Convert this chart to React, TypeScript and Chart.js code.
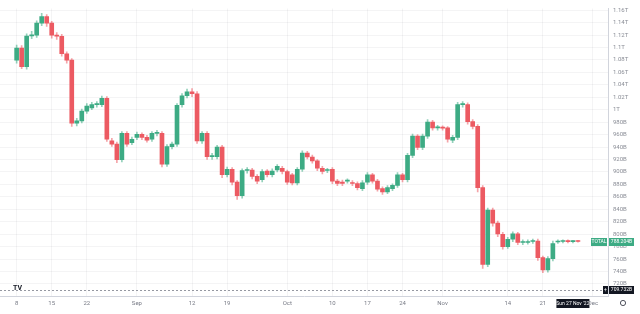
import React, { useEffect, useRef } from "react";
import { Chart, registerables } from "chart.js";

Chart.register(...registerables);

// Daily candles, index 0 = 8 Aug 2022 (values in billions USD)
const openValues = [
  1079.6, 1099.2, 1069.2, 1118.5, 1120.0, 1139.2, 1149.6, 1139.2, 1120.0, 1118.0,
  1089.9, 1079.6, 978.5, 982.1, 997.7, 1003.0, 1008.1, 1008.1, 1018.3, 949.9,
  944.8, 919.9, 961.9, 947.0, 955.7, 960.3, 955.7, 952.6, 961.9, 962.0,
  912.6, 940.6, 944.8, 1008.1, 1022.5, 1028.8, 1025.7, 949.9, 961.9, 924.6,
  924.6, 940.1, 895.5, 904.4, 883.7, 861.9, 902.3, 903.2, 893.0, 887.7,
  901.3, 895.5, 903.2, 905.9, 900.8, 895.5, 882.6, 904.4, 930.3, 924.1,
  917.9, 905.9, 902.3, 904.4, 885.2, 883.7, 885.2, 883.0, 881.5, 873.3,
  883.7, 895.5, 885.2, 873.3, 868.1, 873.3, 878.4, 895.5, 887.7, 926.6,
  957.7, 939.6, 957.7, 980.1, 970.8, 971.0, 970.8, 951.0, 955.7, 1008.1,
  1008.1, 981.0, 973.3, 874.8, 751.5, 838.6, 817.7, 799.6, 780.0, 791.9,
  800.6, 786.7, 786.7, 788.2, 789.0, 762.4, 742.6, 760.8, 787.5, 788.2,
  788.5, 788.0, 788.3,
];
const closeValues = [
  1099.2, 1069.2, 1118.5, 1120.5, 1139.2, 1149.6, 1139.2, 1120.0, 1118.0, 1089.9,
  1079.6, 978.5, 982.1, 997.7, 1006.0, 1008.1, 1009.0, 1018.3, 952.6, 944.8,
  919.9, 961.9, 944.8, 952.6, 960.3, 955.7, 951.0, 961.9, 963.0, 912.6,
  940.6, 944.8, 1007.0, 1022.5, 1028.8, 1025.7, 949.9, 961.9, 924.6, 926.0,
  940.1, 895.5, 904.4, 883.7, 861.9, 902.3, 903.2, 893.0, 885.2, 900.8,
  895.5, 901.3, 909.0, 900.8, 883.7, 882.6, 904.4, 930.3, 924.1, 917.9,
  905.9, 900.8, 902.8, 885.2, 881.5, 881.5, 886.5, 881.5, 874.8, 882.6,
  895.5, 885.2, 872.2, 868.1, 874.8, 878.4, 895.5, 887.7, 926.6, 957.7,
  939.6, 957.7, 980.1, 970.8, 971.5, 970.5, 952.6, 955.7, 1008.1, 1008.8,
  981.0, 973.3, 874.8, 751.5, 838.6, 817.7, 800.6, 780.0, 791.9, 800.6,
  786.7, 787.5, 787.2, 788.8, 762.4, 742.6, 760.8, 785.1, 788.2, 788.7,
  788.0, 788.6, 788.2,
];
const highValues = [
  1104, 1103, 1122, 1126, 1143, 1155, 1153, 1142, 1124, 1121,
  1093, 1082, 986, 1001, 1010, 1012, 1013, 1022, 1021, 954,
  948, 965, 965, 956, 964, 963, 959, 965, 967, 965,
  944, 948, 1010, 1026, 1033, 1034, 1029, 965, 965, 930,
  943, 943, 908, 907, 886, 905, 907, 906, 896, 904,
  904, 905, 912, 909, 903, 898, 907, 934, 933, 927,
  920, 909, 906, 907, 888, 887, 889, 886, 884, 886,
  899, 898, 888, 876, 878, 881, 899, 898, 930, 961,
  960, 961, 984, 983, 975, 974, 973, 959, 1012, 1013,
  1011, 984, 976, 878, 842, 842, 821, 803, 795, 804,
  803, 791, 791, 792, 792, 765, 764, 789, 791, 791,
  791, 790, 790,
];
const lowValues = [
  1075, 1066, 1065, 1114, 1116, 1135, 1134, 1115, 1113, 1086,
  1075, 973, 974, 979, 994, 1000, 1004, 1005, 949, 941,
  915, 916, 941, 944, 952, 952, 948, 949, 958, 908,
  909, 937, 941, 1004, 1019, 1021, 946, 946, 920, 920,
  921, 891, 892, 879, 856, 858, 898, 889, 881, 884,
  892, 892, 900, 897, 880, 879, 879, 901, 921, 914,
  902, 897, 899, 881, 878, 878, 882, 878, 871, 870,
  880, 882, 869, 864, 865, 870, 875, 884, 884, 923,
  936, 936, 954, 967, 967, 967, 948, 947, 952, 1004,
  977, 969, 868, 745, 748, 813, 796, 776, 777, 788,
  783, 783, 784, 785, 758, 738, 739, 757, 785, 786,
  786, 786, 787,
];

const tickDays = [0, 7, 14, 24, 35, 42, 54, 63, 70, 77, 85, 98, 105, 115];
const tickLabels = ["8", "15", "22", "Sep", "12", "19", "Oct", "10", "17", "24", "Nov", "14", "21", "Dec"];
const priceTicks = [
  720, 740, 760, 780, 800, 820, 840, 860, 880, 900, 920, 940, 960, 980,
  1000, 1020, 1040, 1060, 1080, 1100, 1120, 1140, 1160,
];

const symbolName = "TOTAL";
const lastPriceText = "788.204B";
const crosshairPrice = 709.732;
const crosshairPriceText = "709.732B";
const crosshairDay = 111;
const crosshairDateText = "Sun 27 Nov '22";

const UP = "#3dab84";
const DOWN = "#ec5a62";
const UP_WICK = "rgba(61,171,132,0.55)";
const DOWN_WICK = "rgba(236,90,98,0.55)";
const FONT = "Roboto, 'DejaVu Sans', sans-serif";

function fmtPrice(v: number): string {
  if (v >= 1000) {
    const t = Math.round(v / 10) / 100;
    return `${parseFloat(t.toFixed(2))}T`;
  }
  return `${v}B`;
}

const overlayPlugin = {
  id: "overlay",
  afterDraw(chart: any) {
    const { ctx, chartArea, scales } = chart;
    const xs = scales.x;
    const ys = scales.y;
    ctx.save();

    // horizontal crosshair
    const cy = Math.round(ys.getPixelForValue(crosshairPrice)) + 0.5;
    ctx.strokeStyle = "#9598a1";
    ctx.lineWidth = 1;
    ctx.setLineDash([2, 2]);
    ctx.beginPath();
    ctx.moveTo(chartArea.left, cy);
    ctx.lineTo(chartArea.right, cy);
    ctx.stroke();
    ctx.setLineDash([]);

    ctx.font = `5px ${FONT}`;
    ctx.textBaseline = "middle";

    // last price label (symbol + value)
    const lastClose = closeValues[closeValues.length - 1];
    const ly = Math.round(ys.getPixelForValue(lastClose));
    ctx.fillStyle = UP;
    ctx.fillRect(chartArea.right - 17, ly - 4, 16, 8);
    ctx.fillRect(chartArea.right + 1, ly - 4, 25, 8);
    ctx.fillStyle = "#ffffff";
    ctx.textAlign = "center";
    ctx.fillText(symbolName, chartArea.right - 9, ly);
    ctx.fillText(lastPriceText, chartArea.right + 13.5, ly);

    // crosshair price label
    ctx.fillStyle = "#131722";
    ctx.fillRect(chartArea.right - 5, cy - 4.5, 5, 8);
    ctx.fillRect(chartArea.right + 1, cy - 4.5, 25, 8);
    ctx.fillStyle = "#ffffff";
    ctx.fillText("+", chartArea.right - 2.5, cy - 0.5);
    ctx.fillText(crosshairPriceText, chartArea.right + 13.5, cy - 0.5);

    // crosshair date label
    const dx = xs.getPixelForValue(crosshairDay);
    ctx.fillStyle = "#131722";
    ctx.fillRect(dx - 16.5, chartArea.bottom + 3, 33, 9);
    ctx.fillStyle = "#ffffff";
    ctx.fillText(crosshairDateText, dx, chartArea.bottom + 7.5);

    // TradingView logo
    ctx.fillStyle = "#131722";
    ctx.font = `bold 7px ${FONT}`;
    ctx.textAlign = "left";
    ctx.fillText("TV", 13, chartArea.bottom - 8);

    // settings gear
    ctx.strokeStyle = "#50535e";
    ctx.lineWidth = 1;
    ctx.beginPath();
    ctx.arc(chartArea.right + 15, chartArea.bottom + 7, 2.6, 0, Math.PI * 2);
    ctx.stroke();

    ctx.restore();
  },
};

export default function App() {
  const canvasRef = useRef<HTMLCanvasElement | null>(null);

  useEffect(() => {
    if (!canvasRef.current) return;
    const isUp = openValues.map((o, i) => closeValues[i] >= o);
    const colors = isUp.map((u) => (u ? UP : DOWN));
    const wickColors = isUp.map((u) => (u ? UP_WICK : DOWN_WICK));
    const bodies = openValues.map((o, i) => ({ x: i, y: [o, closeValues[i]] }));
    const wicks = openValues.map((_, i) => ({ x: i, y: [lowValues[i], highValues[i]] }));

    const chart = new Chart(canvasRef.current, {
      type: "bar",
      data: {
        datasets: [
          {
            data: bodies as any,
            backgroundColor: colors,
            borderWidth: 0,
            barThickness: 4,
            minBarLength: 1,
            grouped: false,
          } as any,
          {
            data: wicks as any,
            backgroundColor: wickColors,
            borderWidth: 0,
            barThickness: 1,
            grouped: false,
          } as any,
        ],
      },
      options: {
        animation: false,
        responsive: true,
        maintainAspectRatio: false,
        devicePixelRatio: 1,
        layout: { padding: 0 },
        plugins: { legend: { display: false }, tooltip: { enabled: false } },
        scales: {
          x: {
            type: "linear",
            min: -3.32,
            max: 118,
            offset: false,
            afterBuildTicks: (scale: any) => {
              scale.ticks = tickDays.map((v) => ({ value: v }));
            },
            afterFit: (scale: any) => {
              scale.height = 18;
            },
            ticks: {
              autoSkip: false,
              maxRotation: 0,
              padding: 4,
              color: "#787b86",
              font: { size: 6, family: FONT },
              callback: (v: any) => {
                const k = tickDays.indexOf(Number(v));
                return k >= 0 ? tickLabels[k] : "";
              },
            },
            grid: {
              color: "rgba(42,46,57,0.05)",
              drawTicks: false,
              offset: false,
            },
            border: { color: "#d1d4dc" },
          },
          y: {
            type: "linear",
            position: "right",
            min: 700.7,
            max: 1162.5,
            afterBuildTicks: (scale: any) => {
              scale.ticks = priceTicks.map((v) => ({ value: v }));
            },
            afterFit: (scale: any) => {
              scale.width = 32;
            },
            ticks: {
              padding: 5,
              color: "#8a8d96",
              font: { size: 6, family: FONT },
              callback: (v: any) => fmtPrice(Number(v)),
            },
            grid: { color: "rgba(42,46,57,0.05)", drawTicks: false },
            border: { color: "#d1d4dc" },
          },
        },
      },
      plugins: [overlayPlugin],
    });
    return () => chart.destroy();
  }, []);

  return (
    <div style={{ position: "fixed", left: 0, top: 0, width: 640, height: 314, background: "#ffffff" }}>
      <canvas ref={canvasRef} />
    </div>
  );
}
